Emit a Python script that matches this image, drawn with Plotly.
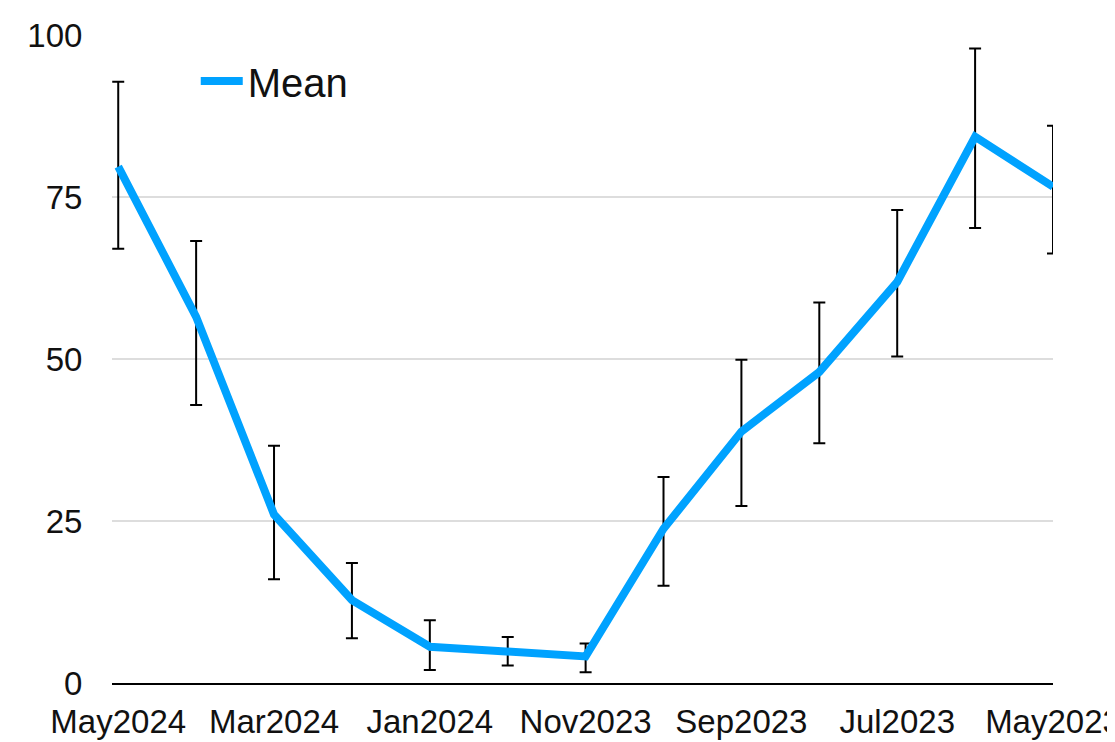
import plotly.graph_objects as go

months = ["May2024", "Apr2024", "Mar2024", "Feb2024", "Jan2024", "Dec2023", "Nov2023",
          "Oct2023", "Sep2023", "Aug2023", "Jul2023", "Jun2023", "May2023"]
mean = [79.7, 56.5, 26.0, 12.8, 5.6, 5.0, 4.1, 23.8, 38.8, 48.0, 61.9, 84.3, 76.6]
upper = [92.8, 68.2, 36.6, 18.5, 9.7, 7.1, 6.1, 31.8, 49.9, 58.7, 73.0, 97.9, 86.0]
lower = [67.0, 42.9, 16.0, 6.9, 2.0, 2.7, 1.65, 15.0, 27.3, 37.0, 50.4, 70.2, 66.3]
tick_labels = ["May2024", "Mar2024", "Jan2024", "Nov2023", "Sep2023", "Jul2023", "May2023"]
y_ticks = [0, 25, 50, 75, 100]

err_plus = [u - m for u, m in zip(upper, mean)]
err_minus = [m - l for m, l in zip(mean, lower)]

FONT = "Liberation Sans, Arial, Helvetica, sans-serif"

fig = go.Figure()
fig.add_trace(go.Scatter(
    x=months, y=mean, name="Mean", mode="lines",
    line=dict(color="#00A2FF", width=8),
    error_y=dict(type="data", symmetric=False, array=err_plus, arrayminus=err_minus,
                 color="black", thickness=2, width=6),
    showlegend=True,
))

fig.update_layout(
    width=1107, height=734,
    margin=dict(l=104, r=62, t=27, b=59, autoexpand=False),
    paper_bgcolor="white", plot_bgcolor="white",
    font=dict(family=FONT, size=33, color="#111111"),
    showlegend=True,
    legend=dict(x=0.089, y=0.929, xanchor="left", yanchor="middle", itemwidth=42,
                font=dict(size=40, color="#111111"), bgcolor="rgba(0,0,0,0)"),
    xaxis=dict(type="category", categoryorder="array", categoryarray=months,
               range=[-0.08, 12], tickmode="array", tickvals=tick_labels, ticktext=tick_labels,
               showgrid=False, showline=True, linecolor="black", linewidth=2,
               ticks="outside", ticklen=8, tickcolor="rgba(0,0,0,0)",
               tickfont=dict(size=33), zeroline=False, automargin=False),
    yaxis=dict(range=[0, 100], tickmode="array", tickvals=y_ticks,
               showgrid=True, gridcolor="#dddddd", gridwidth=1.5,
               showline=False, zeroline=False,
               ticks="outside", ticklen=22, tickcolor="rgba(0,0,0,0)",
               tickfont=dict(size=33), automargin=False),
)

fig.write_html("out.html")
